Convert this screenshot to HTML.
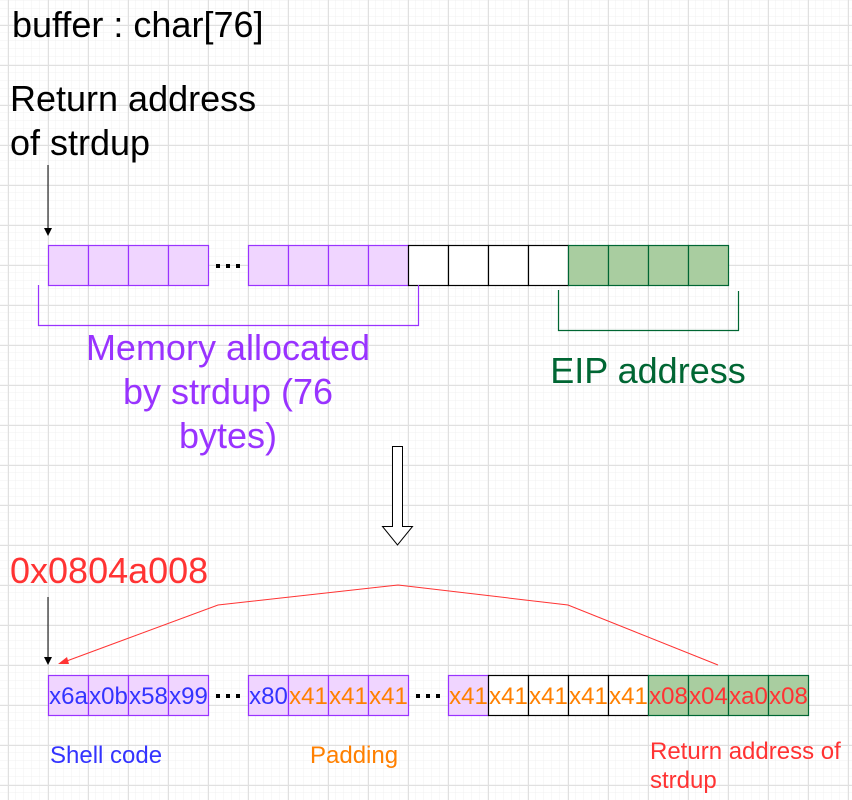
<!DOCTYPE html>
<html><head><meta charset="utf-8"><style>
html,body{margin:0;padding:0;background:#fff}
svg{display:block}
text{font-family:"Liberation Sans",sans-serif}
</style></head><body>
<svg width="852" height="800" xmlns="http://www.w3.org/2000/svg">
<defs>
<pattern id="minor" width="8" height="8" patternUnits="userSpaceOnUse" x="8" y="1">
<path d="M8 0V8M0 8H8" fill="none" stroke="#f0f0f0" stroke-width="1"/>
</pattern>
<pattern id="major" width="40" height="40" patternUnits="userSpaceOnUse" x="8" y="25">
<path d="M0.5 0V40M0 0.5H40" fill="none" stroke="#e0e0e0" stroke-width="1"/>
</pattern>
</defs>
<rect width="852" height="800" fill="url(#minor)"/>
<rect width="852" height="800" fill="url(#major)"/>

<text x="12" y="37" font-size="36" fill="#000">buffer : char[76]</text>
<text x="10" y="111" font-size="36" fill="#000">Return address</text>
<text x="10" y="155" font-size="36" fill="#000">of strdup</text>

<line x1="48" y1="165" x2="48" y2="228" stroke="#000"/>
<path d="M44 228L48 236L52 228Z" fill="#000"/>

<g stroke-width="1.2">
<g fill="#f0d5ff" stroke="#9933ff">
<rect x="48.5" y="245.5" width="40" height="40"/><rect x="88.5" y="245.5" width="40" height="40"/><rect x="128.5" y="245.5" width="40" height="40"/><rect x="168.5" y="245.5" width="40" height="40"/>
<rect x="248.5" y="245.5" width="40" height="40"/><rect x="288.5" y="245.5" width="40" height="40"/><rect x="328.5" y="245.5" width="40" height="40"/><rect x="368.5" y="245.5" width="40" height="40"/>
</g>
<g fill="#fff" stroke="#000">
<rect x="408.5" y="245.5" width="40" height="40"/><rect x="448.5" y="245.5" width="40" height="40"/><rect x="488.5" y="245.5" width="40" height="40"/><rect x="528.5" y="245.5" width="40" height="40"/>
</g>
<g fill="#a9cda0" stroke="#006633">
<rect x="568.5" y="245.5" width="40" height="40"/><rect x="608.5" y="245.5" width="40" height="40"/><rect x="648.5" y="245.5" width="40" height="40"/><rect x="688.5" y="245.5" width="40" height="40"/>
</g>
</g>
<g fill="#000"><rect x="216" y="264" width="4" height="4"/><rect x="226" y="264" width="4" height="4"/><rect x="236" y="264" width="4" height="4"/></g>

<path d="M38.5 285V325.5H418.5V285" fill="none" stroke="#9933ff" stroke-width="1.2"/>
<path d="M558.5 290V330.5H738.5V291" fill="none" stroke="#006633" stroke-width="1.2"/>

<g font-size="36" fill="#9933ff" text-anchor="middle">
<text x="228" y="360">Memory allocated</text>
<text x="228" y="404">by strdup (76</text>
<text x="228" y="448">bytes)</text>
</g>
<text x="648" y="383" font-size="36" fill="#006633" text-anchor="middle">EIP address</text>

<path d="M392.5 446.5H402.5V526.5H412.5L397.5 545L382.5 526.5H392.5Z" fill="#fff" stroke="#000" stroke-width="1"/>

<text x="10" y="583" font-size="36" fill="#ff3333">0x0804a008</text>
<line x1="48" y1="597" x2="48" y2="657" stroke="#000"/>
<path d="M44 657L48 665L52 657Z" fill="#000"/>

<path d="M718 665L568 605L398 585L218 605L64 662" fill="none" stroke="#ff3333" stroke-width="1"/>
<path d="M58 664L67 657L69 664Z" fill="#ff3333"/>

<g stroke-width="1.2">
<g fill="#f0d5ff" stroke="#9933ff">
<rect x="48.5" y="675.5" width="40" height="40"/><rect x="88.5" y="675.5" width="40" height="40"/><rect x="128.5" y="675.5" width="40" height="40"/><rect x="168.5" y="675.5" width="40" height="40"/>
<rect x="248.5" y="675.5" width="40" height="40"/><rect x="288.5" y="675.5" width="40" height="40"/><rect x="328.5" y="675.5" width="40" height="40"/><rect x="368.5" y="675.5" width="40" height="40"/>
<rect x="448.5" y="675.5" width="40" height="40"/>
</g>
<g fill="#fff" stroke="#000">
<rect x="488.5" y="675.5" width="40" height="40"/><rect x="528.5" y="675.5" width="40" height="40"/><rect x="568.5" y="675.5" width="40" height="40"/><rect x="608.5" y="675.5" width="40" height="40"/>
</g>
<g fill="#a9cda0" stroke="#006633">
<rect x="648.5" y="675.5" width="40" height="40"/><rect x="688.5" y="675.5" width="40" height="40"/><rect x="728.5" y="675.5" width="40" height="40"/><rect x="768.5" y="675.5" width="40" height="40"/>
</g>
</g>
<g fill="#000"><rect x="216" y="694" width="4" height="4"/><rect x="226" y="694" width="4" height="4"/><rect x="236" y="694" width="4" height="4"/>
<rect x="416" y="694" width="4" height="4"/><rect x="426" y="694" width="4" height="4"/><rect x="436" y="694" width="4" height="4"/></g>

<g font-size="24" text-anchor="middle">
<g fill="#3333ff"><text x="68.5" y="704">x6a</text><text x="108.5" y="704">x0b</text><text x="148.5" y="704">x58</text><text x="188.5" y="704">x99</text><text x="268.5" y="704">x80</text></g>
<g fill="#ff8000"><text x="308.5" y="704">x41</text><text x="348.5" y="704">x41</text><text x="388.5" y="704">x41</text>
<text x="468.5" y="704">x41</text><text x="508.5" y="704">x41</text><text x="548.5" y="704">x41</text><text x="588.5" y="704">x41</text><text x="628.5" y="704">x41</text></g>
<g fill="#ff3333"><text x="668.5" y="704">x08</text><text x="708.5" y="704">x04</text><text x="748.5" y="704">xa0</text><text x="788.5" y="704">x08</text></g>
</g>

<text x="50" y="763" font-size="24" fill="#3333ff">Shell code</text>
<text x="310" y="763" font-size="24" fill="#ff8000">Padding</text>
<text x="650" y="759" font-size="24" fill="#ff3333">Return address of</text>
<text x="650" y="788" font-size="24" fill="#ff3333">strdup</text>
</svg>
</body></html>
